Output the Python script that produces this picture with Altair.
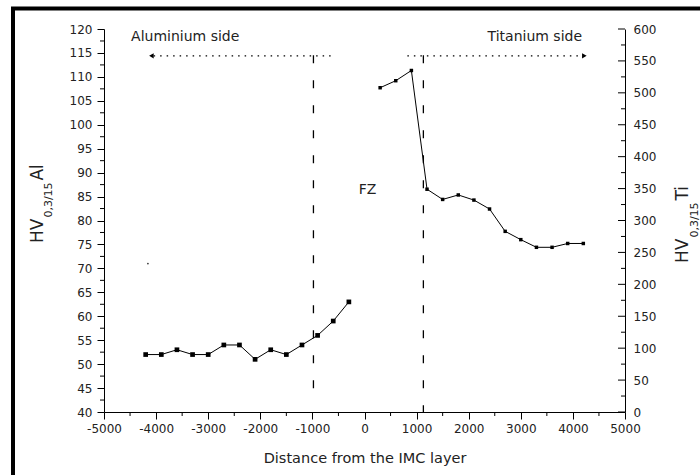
import altair as alt
import pandas as pd

# ---------------- data ----------------
al_x = [-4200, -3900, -3600, -3300, -3000, -2700, -2400, -2100, -1800, -1500, -1200, -900, -600, -300]
al_hv = [52, 52, 53, 52, 52, 54, 54, 51, 53, 52, 54, 56, 59, 63]

ti_x = [300, 600, 900, 1200, 1500, 1800, 2100, 2400, 2700, 3000, 3300, 3600, 3900, 4200]
ti_hv = [508, 519, 535, 349, 333, 340, 332, 318, 283, 270, 258, 258, 264, 264]

x_ticks = list(range(-5000, 5001, 1000))
x_minor = list(range(-4500, 5000, 1000))
left_ticks = list(range(40, 121, 5))
left_minor = [42.5 + 5 * i for i in range(16)]
right_ticks = list(range(0, 601, 50))
right_minor = [25 + 50 * i for i in range(12)]

# zone boundaries (dashed)
bound_x = [-980, 1130]
bound_top = [114.5, 114.5]
bound_bottom = [43.5, 40]

# side arrows (dotted)
arrow_start = [-650, 823]
arrow_end = [-4090, 4220]
arrow_level = [114.4, 114.4]

# annotations
label_text = ["Aluminium side", "Titanium side", "FZ"]
label_x = [-4480, 4176, 60]
label_y = [118.3, 118.3, 86.4]

stray_x = [-4157]
stray_y = [71]

W, H = 521, 383
FONT = "DejaVu Sans"
TXT = "#222222"

xscale = alt.Scale(domain=[-5000, 5000], nice=False, zero=False)
xaxis = alt.Axis(values=x_ticks, tickSize=7, tickColor="black", domainColor="black",
                 labelFont=FONT, labelFontSize=12, labelColor=TXT, labelPadding=4,
                 labelExpr="'' + datum.value", labelFlush=False,
                 title="Distance from the IMC layer", titleFont=FONT, titleFontSize=14.5,
                 titleFontWeight="normal", titleColor=TXT, titlePadding=17, grid=False)
lscale = alt.Scale(domain=[40, 120], nice=False, zero=False)
laxis = alt.Axis(values=left_ticks, orient="left", tickSize=7, tickColor="black",
                 domainColor="black", labelFont=FONT, labelFontSize=12, labelColor=TXT,
                 labelPadding=5, title=None, grid=False, labelFlush=False)
rscale = alt.Scale(domain=[0, 600], nice=False, zero=False)
raxis = alt.Axis(values=right_ticks, orient="right", ticks=False, domainColor="black",
                 labelFont=FONT, labelFontSize=12, labelColor=TXT, labelPadding=8,
                 title=None, grid=False, labelFlush=False)


def X(f):
    return alt.X(f + ":Q", scale=xscale, axis=xaxis)


def YL(f):
    return alt.Y(f + ":Q", scale=lscale, axis=laxis)


def YR(f):
    return alt.Y(f + ":Q", scale=rscale, axis=raxis)


al = pd.DataFrame({"x": al_x, "hv": al_hv})
ti = pd.DataFrame({"x": ti_x, "hv": ti_hv})
bounds = pd.DataFrame({"x": bound_x, "y1": bound_top, "y2": bound_bottom})
arrows = pd.DataFrame({"xa": arrow_start, "xb": arrow_end, "y": arrow_level})
labels = pd.DataFrame({"t": label_text, "x": label_x, "y": label_y})
stray = pd.DataFrame({"x": stray_x, "y": stray_y})
lminor = pd.DataFrame({"v": left_minor})
xminor = pd.DataFrame({"v": x_minor})
rmajor = pd.DataFrame({"v": right_ticks})
rminor = pd.DataFrame({"v": right_minor})

al_line = alt.Chart(al).mark_line(color="black", strokeWidth=1).encode(x=X("x"), y=YL("hv"))
al_pts = alt.Chart(al).mark_point(shape="square", filled=True, size=22, color="black", opacity=1).encode(
    x=X("x"), y=YL("hv"))

dashed = alt.Chart(bounds).mark_rule(color="black", strokeWidth=1.3, strokeDash=[8, 17]).encode(
    x=X("x"), y=YL("y1"), y2="y2:Q")
dotted = alt.Chart(arrows).mark_rule(color="black", strokeWidth=1.2, strokeDash=[1.5, 5]).encode(
    x=X("xa"), x2="xb:Q", y=YL("y"))
heads = alt.Chart(arrows).mark_point(filled=True, size=28, color="black", opacity=1).encode(
    x=X("xb"), y=YL("y"),
    shape=alt.Shape("xb:N", scale=alt.Scale(domain=arrow_end,
                                            range=["triangle-left", "triangle-right"]), legend=None))

lab_l = alt.Chart(labels[labels.t == "Aluminium side"]).mark_text(
    align="left", baseline="middle", font=FONT, fontSize=14, color=TXT).encode(x=X("x"), y=YL("y"), text="t:N")
lab_r = alt.Chart(labels[labels.t == "Titanium side"]).mark_text(
    align="right", baseline="middle", font=FONT, fontSize=14, color=TXT).encode(x=X("x"), y=YL("y"), text="t:N")
lab_c = alt.Chart(labels[labels.t == "FZ"]).mark_text(
    align="center", baseline="middle", font=FONT, fontSize=14, color=TXT).encode(x=X("x"), y=YL("y"), text="t:N")

stray_dot = alt.Chart(stray).mark_circle(size=3, color="#333333", opacity=1).encode(x=X("x"), y=YL("y"))

lmin = alt.Chart(lminor).mark_rule(color="black").encode(y=YL("v"), x=alt.value(-4), x2=alt.value(0))
xmin = alt.Chart(xminor).mark_rule(color="black").encode(x=X("v"), y=alt.value(H), y2=alt.value(H + 4))


def tpart(s, x, y, size):
    return alt.Chart(pd.DataFrame({"t": [s]})).mark_text(
        align="left", baseline="alphabetic", angle=270, font=FONT, fontSize=size, color=TXT).encode(
        x=alt.value(x), y=alt.value(y), text="t:N")


titles = [
    tpart("HV", -61, 214, 17), tpart("0,3/15", -52, 188.6, 11), tpart("Al", -61, 151.6, 17),
    tpart("HV", 584, 234, 17), tpart("0,3/15", 594, 208.6, 11), tpart("Ti", 584, 171.6, 17),
]

frame = alt.Chart(pd.DataFrame({"a": [0]})).mark_rect(filled=False, stroke="black", strokeWidth=4).encode(
    x=alt.value(-91), x2=alt.value(640), y=alt.value(-20.5), y2=alt.value(470))

left = alt.layer(frame, lmin, xmin, dotted, dashed, heads, al_line, al_pts, stray_dot,
                 lab_l, lab_r, lab_c, *titles)

ti_line = alt.Chart(ti).mark_line(color="black", strokeWidth=1).encode(x=X("x"), y=YR("hv"))
ti_pts = alt.Chart(ti).mark_point(shape="square", filled=True, size=12, color="black", opacity=1).encode(
    x=X("x"), y=YR("hv"))
rmaj = alt.Chart(rmajor).mark_rule(color="black").encode(y=YR("v"), x=alt.value(W - 7), x2=alt.value(W))
rmin = alt.Chart(rminor).mark_rule(color="black").encode(y=YR("v"), x=alt.value(W - 4), x2=alt.value(W))

right = alt.layer(rmaj, rmin, ti_line, ti_pts)

chart = alt.layer(left, right).resolve_scale(y="independent").properties(
    width=W, height=H,
    autosize=alt.AutoSizeParams(type="none"),
    padding={"left": 104, "top": 29, "right": 75, "bottom": 63},
    background="white",
).configure_view(stroke=None)

chart.save("out.html", embed_options={"renderer": "svg", "actions": False})
